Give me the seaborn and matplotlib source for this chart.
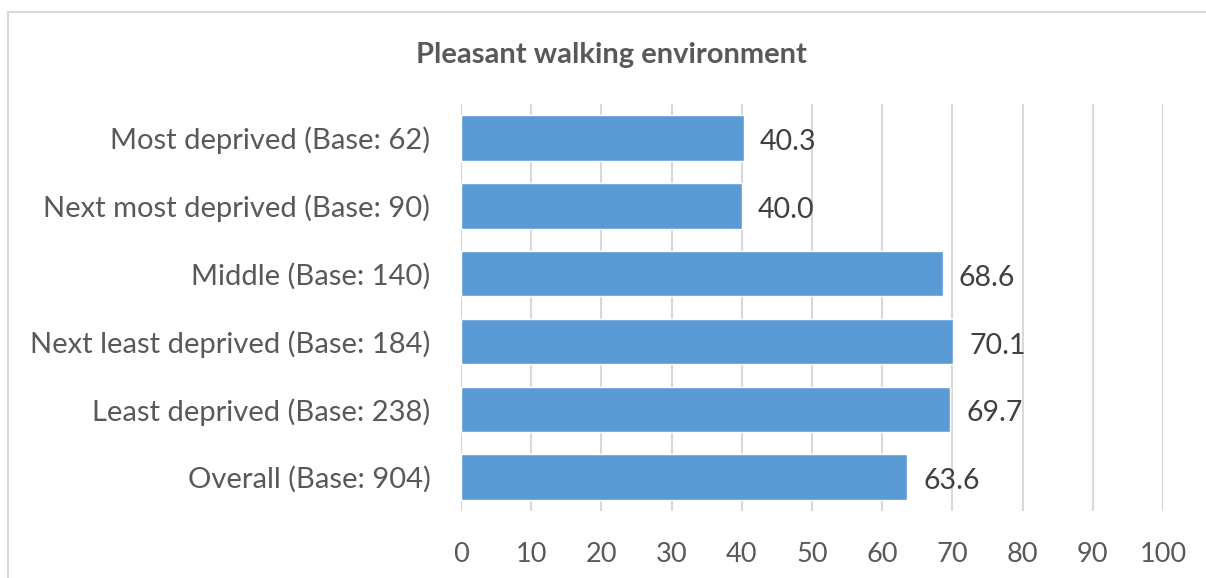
import matplotlib
matplotlib.use("Agg")
import matplotlib.pyplot as plt
from matplotlib.patches import Rectangle
import seaborn as sns
import pandas as pd

categories = [
    "Most deprived (Base: 62)",
    "Next most deprived (Base: 90)",
    "Middle (Base: 140)",
    "Next least deprived (Base: 184)",
    "Least deprived (Base: 238)",
    "Overall (Base: 904)",
]
values = [40.3, 40.0, 68.6, 70.1, 69.7, 63.6]
x_ticks = [0, 10, 20, 30, 40, 50, 60, 70, 80, 90, 100]
title = "Pleasant walking environment"

sns.set_theme(style="white")
plt.rcParams["font.family"] = ["Lato", "DejaVu Sans"]

df = pd.DataFrame({"category": categories, "value": values})

fig = plt.figure(figsize=(12.06, 5.78), dpi=100)
ax = fig.add_axes([0.3823, 0.1159, 0.9643 - 0.3823, 0.820 - 0.1159])

sns.barplot(data=df, x="value", y="category", color="#5B9BD5", saturation=1,
            width=0.67, ax=ax, zorder=3)

ax.set_xlim(0, 100)
ax.set_xticks(x_ticks)
ax.set_xticklabels([str(t) for t in x_ticks])
ax.set_ylim(len(categories) - 0.5, -0.5)
ax.grid(axis="x", color="#D9D9D9", linewidth=1.5, zorder=0)
ax.grid(axis="y", visible=False)
for s in ax.spines.values():
    s.set_visible(False)
ax.set_xlabel("")
ax.set_ylabel("")
ax.tick_params(axis="x", length=0, pad=22, labelsize=19.5, labelcolor="#595959")
ax.tick_params(axis="y", length=0, pad=22, labelsize=21, labelcolor="#595959")

for i, v in enumerate(values):
    ax.annotate(f"{v:.1f}", xy=(v, i), xytext=(11.5, -3), textcoords="offset points",
                va="center", ha="left", fontsize=20.5, color="#404040")

fig.text(0.5073, 0.905, title, ha="center", va="center", fontsize=21,
         fontweight="bold", color="#595959")

fig.patches.append(Rectangle((8 / 1206, -0.1), 1.2, 1 - 12 / 578 + 0.1,
                             transform=fig.transFigure, fill=False,
                             edgecolor="#D9D9D9", linewidth=1.5))

fig.savefig("out.png", dpi=100)
